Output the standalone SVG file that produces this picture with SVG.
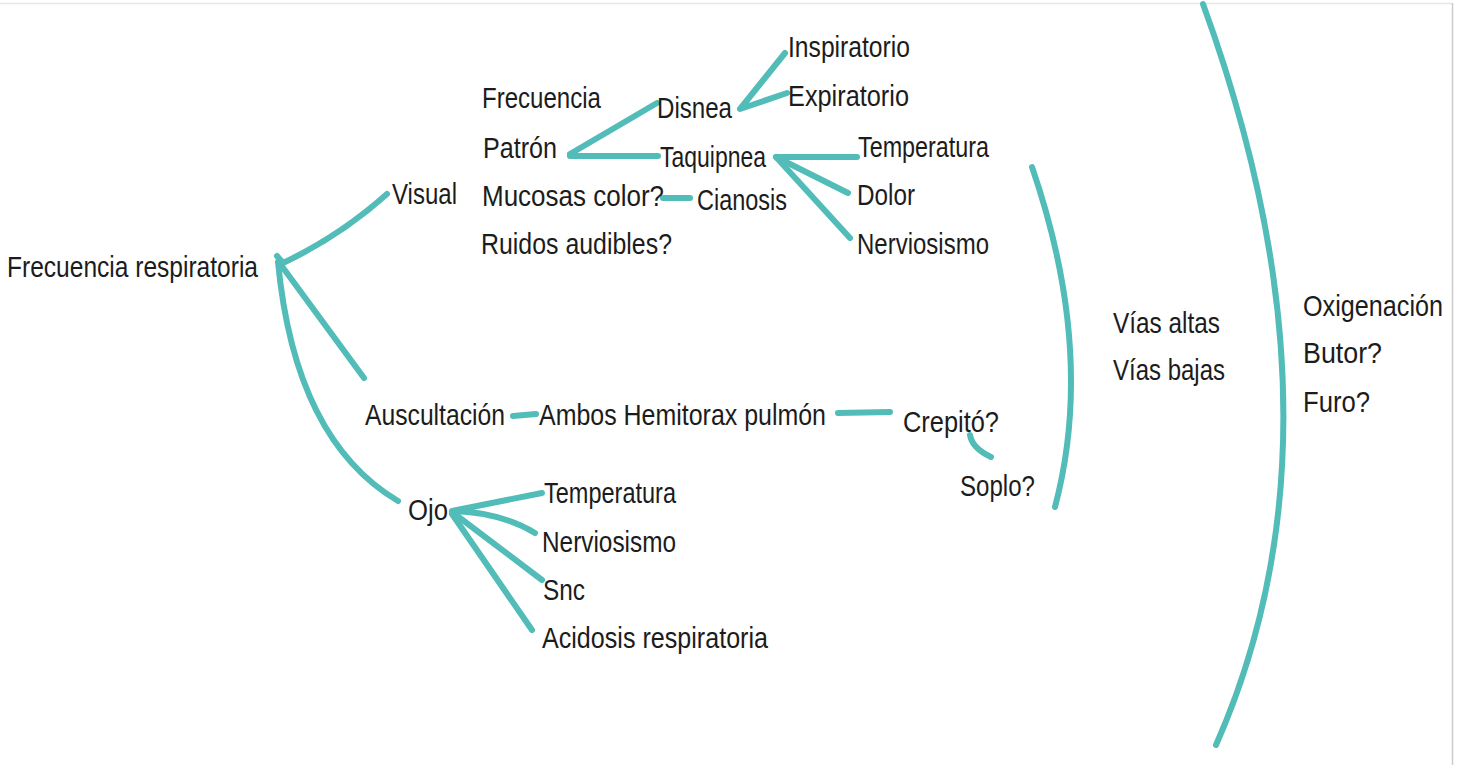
<svg xmlns="http://www.w3.org/2000/svg" width="1469" height="765" viewBox="0 0 1469 765">
<style>
  .t { font-family: "Liberation Sans", Arial, sans-serif; font-size: 29px; fill: #1c1c1c; }
  .c { fill: none; stroke: #52bcb8; stroke-width: 6; stroke-linecap: round; stroke-linejoin: round; }
  .frame { fill: none; stroke-width: 1.5; }
</style>
<rect x="0" y="0" width="1469" height="765" fill="#ffffff"/>
<line class="frame" x1="0" y1="3.5" x2="1453" y2="3.5" stroke="#e6e6e6"/>
<line class="frame" x1="1452.5" y1="3" x2="1452.5" y2="765" stroke="#cccccc"/>

<g id="connectors">
  <path class="c" d="M277,256 L283,263 Q340,236 387,194"/>
  <path class="c" d="M281,265 L364,378"/>
  <path class="c" d="M278,262 Q295,440 398,501"/>
  <path class="c" d="M570,154 L657,103"/>
  <path class="c" d="M570,156 L658,156"/>
  <path class="c" d="M663,198 L690,198"/>
  <path class="c" d="M785,53 L740,109 L787,93"/>
  <path class="c" d="M857,157 L776,157 L848,193"/>
  <path class="c" d="M776,157 L850,238"/>
  <path class="c" d="M513,416 L536,414"/>
  <path class="c" d="M838,413 L890,412"/>
  <path class="c" d="M970,435 Q972,448 991,457"/>
  <path class="c" d="M542,493 L452,511 Q500,512 535,533"/>
  <path class="c" d="M452,512 L542,580"/>
  <path class="c" d="M452,514 L532,630"/>
  <path class="c" d="M1032,167 Q1096,353 1055,507"/>
  <path class="c" d="M1203,4 Q1357,426 1216,745"/>
</g>

<g id="n-root"><text class="t" x="7" y="277" textLength="251" lengthAdjust="spacingAndGlyphs">Frecuencia respiratoria</text></g>
<g id="n-visual"><text class="t" x="392" y="204" textLength="65" lengthAdjust="spacingAndGlyphs">Visual</text></g>
<g id="n-frecuencia"><text class="t" x="482" y="108" textLength="119" lengthAdjust="spacingAndGlyphs">Frecuencia</text></g>
<g id="n-patron"><text class="t" x="483" y="158" textLength="74" lengthAdjust="spacingAndGlyphs">Patrón</text></g>
<g id="n-mucosas"><text class="t" x="482" y="206" textLength="182" lengthAdjust="spacingAndGlyphs">Mucosas color?</text></g>
<g id="n-ruidos"><text class="t" x="481" y="254" textLength="191" lengthAdjust="spacingAndGlyphs">Ruidos audibles?</text></g>
<g id="n-disnea"><text class="t" x="657" y="118" textLength="75" lengthAdjust="spacingAndGlyphs">Disnea</text></g>
<g id="n-taquipnea"><text class="t" x="660" y="167" textLength="106" lengthAdjust="spacingAndGlyphs">Taquipnea</text></g>
<g id="n-cianosis"><text class="t" x="697" y="210" textLength="90" lengthAdjust="spacingAndGlyphs">Cianosis</text></g>
<g id="n-inspiratorio"><text class="t" x="788" y="57" textLength="122" lengthAdjust="spacingAndGlyphs">Inspiratorio</text></g>
<g id="n-expiratorio"><text class="t" x="788" y="106" textLength="121" lengthAdjust="spacingAndGlyphs">Expiratorio</text></g>
<g id="n-temperatura1"><text class="t" x="858" y="157" textLength="131" lengthAdjust="spacingAndGlyphs">Temperatura</text></g>
<g id="n-dolor"><text class="t" x="857" y="205" textLength="58" lengthAdjust="spacingAndGlyphs">Dolor</text></g>
<g id="n-nerviosismo1"><text class="t" x="857" y="254" textLength="132" lengthAdjust="spacingAndGlyphs">Nerviosismo</text></g>
<g id="n-auscultacion"><text class="t" x="365" y="425" textLength="140" lengthAdjust="spacingAndGlyphs">Auscultación</text></g>
<g id="n-ambos"><text class="t" x="539" y="425" textLength="287" lengthAdjust="spacingAndGlyphs">Ambos Hemitorax pulmón</text></g>
<g id="n-crepito"><text class="t" x="903" y="432" textLength="96" lengthAdjust="spacingAndGlyphs">Crepitó?</text></g>
<g id="n-soplo"><text class="t" x="960" y="496" textLength="75" lengthAdjust="spacingAndGlyphs">Soplo?</text></g>
<g id="n-ojo"><text class="t" x="408" y="520" textLength="40" lengthAdjust="spacingAndGlyphs">Ojo</text></g>
<g id="n-temperatura2"><text class="t" x="544" y="503" textLength="132" lengthAdjust="spacingAndGlyphs">Temperatura</text></g>
<g id="n-nerviosismo2"><text class="t" x="542" y="552" textLength="134" lengthAdjust="spacingAndGlyphs">Nerviosismo</text></g>
<g id="n-snc"><text class="t" x="543" y="600" textLength="42" lengthAdjust="spacingAndGlyphs">Snc</text></g>
<g id="n-acidosis"><text class="t" x="542" y="648" textLength="226" lengthAdjust="spacingAndGlyphs">Acidosis respiratoria</text></g>
<g id="n-vias"><text class="t" x="1113" y="333" textLength="107" lengthAdjust="spacingAndGlyphs">Vías altas</text><text class="t" x="1113" y="380" textLength="112" lengthAdjust="spacingAndGlyphs">Vías bajas</text></g>
<g id="n-oxigenacion"><text class="t" x="1303" y="316" textLength="140" lengthAdjust="spacingAndGlyphs">Oxigenación</text><text class="t" x="1303" y="363" textLength="79" lengthAdjust="spacingAndGlyphs">Butor?</text><text class="t" x="1303" y="412" textLength="67" lengthAdjust="spacingAndGlyphs">Furo?</text></g>
</svg>
